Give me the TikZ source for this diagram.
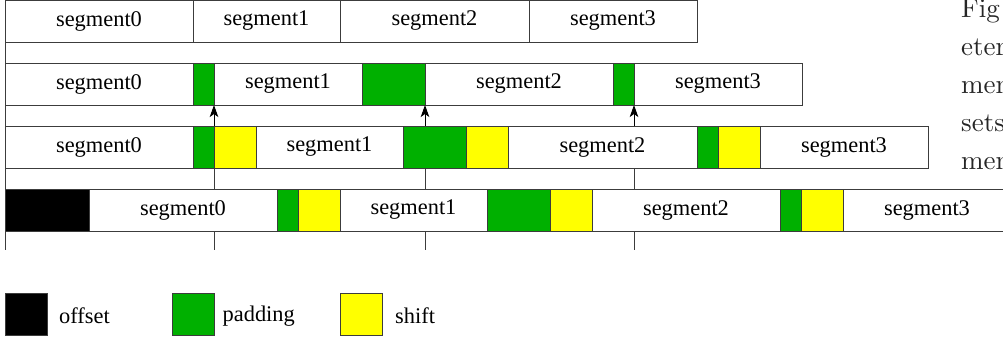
\documentclass[tikz,border=0pt]{standalone}
\usepackage{fontspec}
\newfontfamily\segfont{Liberation Serif}
\newfontfamily\capfont[Extension=.otf]{lmroman10-regular}
\usetikzlibrary{arrows.meta}
\definecolor{padgreen}{RGB}{0,176,0}
\definecolor{shiftyellow}{RGB}{255,255,0}
\definecolor{edge}{RGB}{60,60,60}
\tikzset{
  cell/.style={draw=edge, line width=0.9pt, fill=white, minimum height=42pt,
    inner sep=0pt, outer sep=0pt, anchor=north west,
    font=\segfont\fontsize{22.4}{26}\selectfont},
  seg/.style={cell, minimum width=#1},
  padc/.style={cell, fill=padgreen, minimum width=#1},
  shiftc/.style={cell, fill=shiftyellow, minimum width=42pt},
  offc/.style={cell, fill=black, minimum width=#1},
  legtext/.style={anchor=west, inner sep=0pt, font=\segfont\fontsize{22.4}{26}\selectfont},
  tick/.style={draw=edge, line width=0.9pt},
  uparrow/.style={draw=black, line width=0.9pt, -{Stealth[length=12pt,width=8.5pt,inset=3pt]}},
  captext/.style={anchor=base west, inner sep=0pt, font=\capfont\fontsize{27}{32}\selectfont, text=black!85}
}
\begin{document}
\begin{tikzpicture}[x=1pt,y=-1pt]
\useasboundingbox (0,0) rectangle (1003,340);
\clip (0,0) rectangle (1003,340);

% ticks between row3/row4 and below row4 (drawn first, behind the cells)
\coordinate (b1) at (214,250);
\coordinate (b2) at (425,250);
\coordinate (b3) at (634,250);
\draw[tick] (214,126) -- (b1);
\draw[tick] (425,126) -- (b2);
\draw[tick] (634,126) -- (b3);

% row 1
\node[seg=188pt] (r1s0) at (5,0) {segment0};
\node[seg=147pt] (r1s1) at (r1s0.north east) {segment1};
\node[seg=189pt] (r1s2) at (r1s1.north east) {segment2};
\node[seg=168pt] (r1s3) at (r1s2.north east) {segment3};

% row 2
\node[seg=188pt] (r2s0) at (5,63) {segment0};
\node[padc=21pt] (r2g0) at (r2s0.north east) {};
\node[seg=148pt] (r2s1) at (r2g0.north east) {segment1};
\node[padc=63pt] (r2g1) at (r2s1.north east) {};
\node[seg=188pt] (r2s2) at (r2g1.north east) {segment2};
\node[padc=21pt] (r2g2) at (r2s2.north east) {};
\node[seg=168pt] (r2s3) at (r2g2.north east) {segment3};

% row 3
\node[seg=188pt] (r3s0) at (5,126) {segment0};
\node[padc=21pt] (r3g0) at (r3s0.north east) {};
\node[shiftc] (r3y0) at (r3g0.north east) {};
\node[seg=147pt] (r3s1) at (r3y0.north east) {segment1};
\node[padc=63pt] (r3g1) at (r3s1.north east) {};
\node[shiftc] (r3y1) at (r3g1.north east) {};
\node[seg=189pt] (r3s2) at (r3y1.north east) {segment2};
\node[padc=21pt] (r3g2) at (r3s2.north east) {};
\node[shiftc] (r3y2) at (r3g2.north east) {};
\node[seg=168pt] (r3s3) at (r3y2.north east) {segment3};

% row 4
\node[offc=84pt] (r4o) at (5,189) {};
\node[seg=188pt] (r4s0) at (r4o.north east) {segment0};
\node[padc=21pt] (r4g0) at (r4s0.north east) {};
\node[shiftc] (r4y0) at (r4g0.north east) {};
\node[seg=147pt] (r4s1) at (r4y0.north east) {segment1};
\node[padc=63pt] (r4g1) at (r4s1.north east) {};
\node[shiftc] (r4y1) at (r4g1.north east) {};
\node[seg=188pt] (r4s2) at (r4y1.north east) {segment2};
\node[padc=21pt] (r4g2) at (r4s2.north east) {};
\node[shiftc] (r4y2) at (r4g2.north east) {};
\node[seg=168pt] (r4s3) at (r4y2.north east) {segment3};

% arrows from row 3 up to row 2
\draw[uparrow] (r3g0.north east) -- (r2g0.south east);
\draw[uparrow] (r2g1.south east |- r3g1.north) -- (r2g1.south east);
\draw[uparrow] (r2g2.south east |- r3s2.north) -- (r2g2.south east);

% left axis
\coordinate (axtop) at (5,0);
\coordinate (axbot) at (5,250);
\draw[tick] (axtop) -- (axbot);

% legend
\node[offc=42pt] (lo) at (5,293) {};
\node[legtext] (lot) at ([xshift=12pt,yshift=-2pt]lo.east) {offset};
\node[padc=42pt] (lp) at (172,293) {};
\node[legtext] (lpt) at ([xshift=8.5pt,yshift=-2pt]lp.east) {padding};
\node[shiftc] (ls) at (340,293) {};
\node[legtext] (lst) at ([xshift=13pt,yshift=-2pt]ls.east) {shift};

% clipped caption text at right
\node[captext] (c1) at (961,17) {Fig};
\node[captext] (c2) at (961,55) {eter};
\node[captext] (c3) at (961,93) {men};
\node[captext] (c4) at (961,131) {sets};
\node[captext] (c5) at (961,169) {men};
\end{tikzpicture}
\end{document}
